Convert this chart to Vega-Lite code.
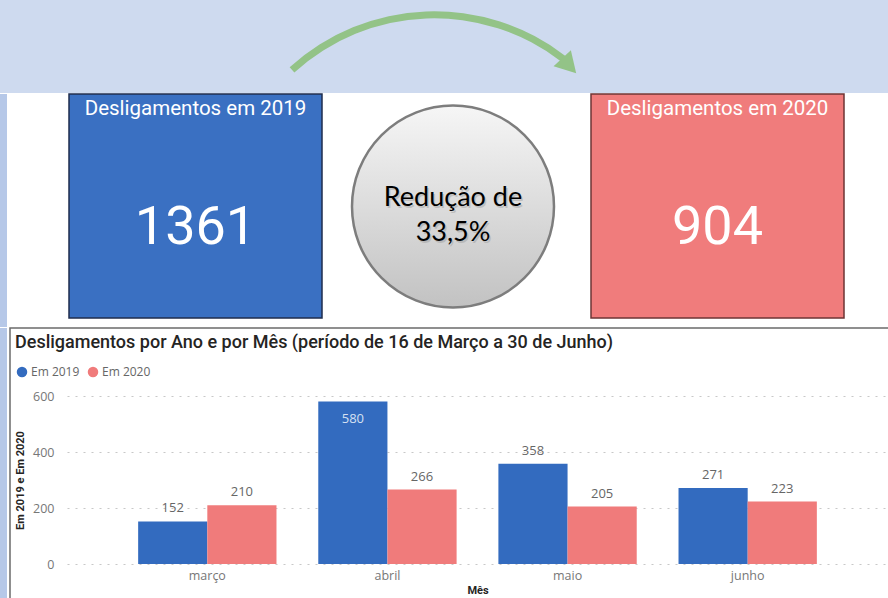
{
  "$schema": "https://vega.github.io/schema/vega-lite/v6.json",
  "padding": 0,
  "background": "#ffffff",
  "spacing": 0,
  "config": {"view": {"stroke": null}, "concat": {"spacing": 0}},
  "datasets": {
    "meses": [
      {"mes": "março", "ano": "Em 2019", "valor": 152},
      {"mes": "março", "ano": "Em 2020", "valor": 210},
      {"mes": "abril", "ano": "Em 2019", "valor": 580},
      {"mes": "abril", "ano": "Em 2020", "valor": 266},
      {"mes": "maio", "ano": "Em 2019", "valor": 358},
      {"mes": "maio", "ano": "Em 2020", "valor": 205},
      {"mes": "junho", "ano": "Em 2019", "valor": 271},
      {"mes": "junho", "ano": "Em 2020", "valor": 223}
    ],
    "seta": [{"de": "2019", "para": "2020"}],
    "reducao": [
      {"parte": "l1", "texto": "Redução de"},
      {"parte": "l2", "texto": "33,5%"}
    ]
  },
  "vconcat": [
    {
      "width": 888,
      "height": 93,
      "view": {"fill": "#cedaef"},
      "data": {"name": "seta"},
      "layer": [
        {
          "mark": {"type": "arc", "theta": -0.738, "theta2": 0.66, "radius": 215, "radius2": 208, "color": "#93c387", "xOffset": -9.7, "yOffset": 179.8}
        },
        {
          "mark": {"type": "point", "shape": "triangle-right", "filled": true, "size": 560, "angle": 47, "color": "#93c387", "opacity": 1, "xOffset": 125.2, "yOffset": 19.2}
        }
      ]
    },
    {
      "hconcat": [
        {
          "width": 7, "height": 233,
          "view": {"fill": "#b6c8e8"},
          "data": {"values": [{}]},
          "mark": {"type": "text", "text": ""}
        },
        {
          "width": 62, "height": 224,
          "data": {"values": [{}]},
          "mark": {"type": "text", "text": ""}
        },
        {
          "width": 253, "height": 224,
          "view": {"fill": "#3a70c2", "stroke": "#1f2d4d", "strokeWidth": 1.5},
          "data": {"name": "meses"},
          "transform": [
            {"filter": "datum.ano === 'Em 2019'"},
            {"aggregate": [{"op": "sum", "field": "valor", "as": "total"}]}
          ],
          "layer": [
            {
              "mark": {"type": "text", "text": "Desligamentos em 2019", "font": "Roboto", "fontSize": 20.5, "color": "#ffffff", "baseline": "middle"},
              "encoding": {"y": {"datum": "titulo", "type": "nominal", "scale": {"domain": ["titulo", "valor"], "range": [15, 134], "padding": 0}, "axis": null}}
            },
            {
              "mark": {"type": "text", "font": "Roboto", "fontSize": 54, "fontWeight": 400, "color": "#ffffff", "baseline": "middle"},
              "encoding": {
                "y": {"datum": "valor", "type": "nominal", "axis": null},
                "text": {"field": "total", "type": "quantitative", "format": "d"}
              }
            }
          ]
        },
        {
          "width": 269, "height": 224,
          "data": {"name": "reducao"},
          "layer": [
            {
              "transform": [{"filter": "datum.parte === 'l1'"}],
              "mark": {
                "type": "point", "shape": "circle", "filled": true, "size": 40804, "opacity": 1,
                "xOffset": -3.5, "yOffset": 0.5,
                "fill": {"gradient": "linear", "x1": 0, "y1": 0, "x2": 0, "y2": 1, "stops": [{"offset": 0, "color": "#f6f6f6"}, {"offset": 1, "color": "#c2c2c2"}]},
                "stroke": "#7d7d7d", "strokeWidth": 2.5
              }
            },
            {
              "mark": {"type": "text", "font": "Lato", "fontSize": 27, "color": "#8a8a8a", "opacity": 0.35, "xOffset": -2, "yOffset": 1.5, "baseline": "middle"},
              "encoding": {
                "y": {"field": "parte", "type": "nominal", "scale": {"domain": ["l1", "l2"], "range": [104, 139], "padding": 0}, "axis": null},
                "text": {"field": "texto", "type": "nominal"}
              }
            },
            {
              "mark": {"type": "text", "font": "Lato", "fontSize": 27, "color": "#000000", "xOffset": -3.5, "baseline": "middle"},
              "encoding": {
                "y": {"field": "parte", "type": "nominal", "axis": null},
                "text": {"field": "texto", "type": "nominal"}
              }
            }
          ]
        },
        {
          "width": 253, "height": 224,
          "view": {"fill": "#f07c7c", "stroke": "#6e3434", "strokeWidth": 1.5},
          "data": {"name": "meses"},
          "transform": [
            {"filter": "datum.ano === 'Em 2020'"},
            {"aggregate": [{"op": "sum", "field": "valor", "as": "total"}]}
          ],
          "layer": [
            {
              "mark": {"type": "text", "text": "Desligamentos em 2020", "font": "Roboto", "fontSize": 20.5, "color": "#ffffff", "baseline": "middle"},
              "encoding": {"y": {"datum": "titulo", "type": "nominal", "scale": {"domain": ["titulo", "valor"], "range": [15, 134], "padding": 0}, "axis": null}}
            },
            {
              "mark": {"type": "text", "font": "Roboto", "fontSize": 54, "fontWeight": 400, "color": "#ffffff", "baseline": "middle"},
              "encoding": {
                "y": {"datum": "valor", "type": "nominal", "axis": null},
                "text": {"field": "total", "type": "quantitative", "format": "d"}
              }
            }
          ]
        }
      ],
      "spacing": 0,
      "bounds": "flush"
    },
    {
      "hconcat": [
        {
          "width": 7, "height": 270,
          "view": {"fill": "#b6c8e8"},
          "data": {"values": [{}]},
          "mark": {"type": "text", "text": ""}
        },
        {
          "width": 3, "height": 270,
          "data": {"values": [{}]},
          "mark": {"type": "text", "text": ""}
        },
        {
          "width": 880, "height": 272,
          "view": {"stroke": "#6b6b6b", "strokeWidth": 1.5},
          "title": {
            "text": "Desligamentos por Ano e por Mês (período de 16 de Março a 30 de Junho)",
            "anchor": "start", "frame": "group", "orient": "top", "offset": -33, "dx": 5,
            "baseline": "middle", "font": "Roboto", "fontSize": 18, "fontWeight": 500, "color": "#252423"
          },
          "data": {"name": "meses"},
          "encoding": {
            "x": {
              "field": "mes", "type": "nominal", "sort": ["março", "abril", "maio", "junho"], "title": "Mês",
              "scale": {"range": [57, 878], "paddingInner": 0.232, "paddingOuter": 0.395},
              "axis": {
                "orient": "bottom", "offset": -36, "domain": false, "ticks": false, "tickSize": 0, "labelPadding": 5, "labelAngle": 0, "grid": false,
                "labelFont": "Open Sans", "labelFontSize": 12.5, "labelColor": "#777777",
                "titleFont": "Roboto", "titleFontSize": 11, "titleFontWeight": "bold", "titleColor": "#252423", "titlePadding": 3
              }
            },
            "xOffset": {"field": "ano", "type": "nominal", "sort": ["Em 2019", "Em 2020"]},
            "y": {
              "field": "valor", "type": "quantitative", "title": "Em 2019 e Em 2020",
              "scale": {"domain": [0, 600], "range": [236, 68], "nice": false},
              "axis": {
                "orient": "left", "offset": -57, "domain": false, "ticks": false, "tickSize": 0, "labelPadding": 13,
                "values": [0, 200, 400, 600], "grid": true, "gridColor": "#c8c8c8", "gridDash": [2, 6], "gridWidth": 1.2,
                "labelFont": "Open Sans", "labelFontSize": 12.5, "labelColor": "#777777",
                "titleFont": "Roboto", "titleFontSize": 11, "titleFontWeight": "bold", "titleColor": "#252423", "titlePadding": 7
              }
            }
          },
          "layer": [
            {
              "mark": {"type": "bar"},
              "encoding": {
                "color": {
                  "field": "ano", "type": "nominal",
                  "scale": {"domain": ["Em 2019", "Em 2020"], "range": ["#336bbf", "#f07b7b"]},
                  "legend": {
                    "orient": "none", "legendX": 16, "legendY": 366, "direction": "horizontal", "title": null,
                    "symbolType": "circle", "symbolSize": 110, "symbolStrokeWidth": 0, "symbolOpacity": 1,
                    "labelFont": "Open Sans", "labelFontSize": 12, "labelColor": "#666666", "labelOffset": 3, "columnPadding": 7
                  }
                }
              }
            },
            {
              "transform": [{"filter": "datum.valor < 550"}],
              "mark": {"type": "text", "baseline": "middle", "dy": -13, "font": "Open Sans", "fontSize": 13, "color": "#666666"},
              "encoding": {"text": {"field": "valor", "type": "quantitative"}}
            },
            {
              "transform": [{"filter": "datum.valor >= 550"}],
              "mark": {"type": "text", "baseline": "middle", "dy": 17, "font": "Open Sans", "fontSize": 13, "color": "#d5e0f2"},
              "encoding": {"text": {"field": "valor", "type": "quantitative"}}
            }
          ]
        }
      ],
      "spacing": 0,
      "bounds": "flush"
    }
  ]
}
